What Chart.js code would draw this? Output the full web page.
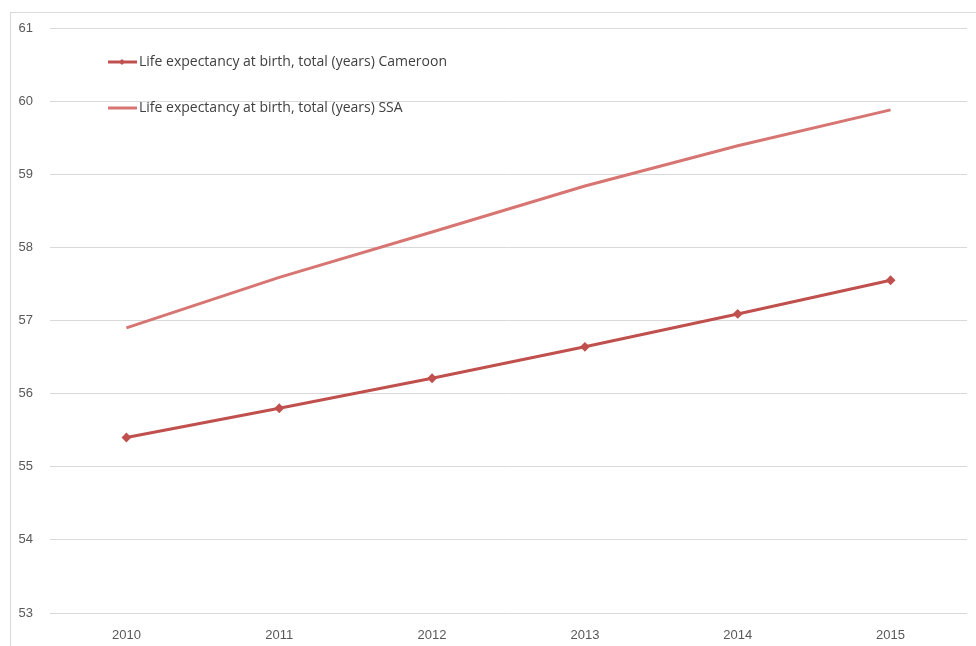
<!DOCTYPE html>
<html>
<head>
<meta charset="utf-8">
<script src="https://cdn.jsdelivr.net/npm/chart.js@4.4.1/dist/chart.umd.min.js"></script>
<style>
    html, body { margin: 0; padding: 0; background: #fff; }
    #frame {
        position: absolute; left: 10px; top: 12px; width: 966px; height: 634px;
        border-left: 1px solid #d9d9d9; border-top: 1px solid #d9d9d9;
    }
    #wrap { position: absolute; left: 0; top: 0; width: 976px; height: 646px; }
</style>
</head>
<body>
<div id="frame"></div>
<div id="wrap"><canvas id="lifeChart" width="976" height="646"></canvas></div>
<script>
// Data
const years = ["2010", "2011", "2012", "2013", "2014", "2015"];
const cameroon = [55.40, 55.80, 56.21, 56.64, 57.09, 57.55];
const ssa = [56.90, 57.59, 58.21, 58.84, 59.39, 59.88];
const cameroonLabel = "Life expectancy at birth, total (years) Cameroon";
const ssaLabel = "Life expectancy at birth, total (years) SSA";

const darkRed = "#c0504d";
const lightRed = "#d77572";
const tickFont = { family: "'Liberation Sans', Arial, sans-serif", size: 13 };

// Legend drawn inside the plot area, top-left, like the Excel original
const insideLegend = {
    id: "insideLegend",
    afterDraw(chart) {
        const ctx = chart.ctx;
        const items = [
            { text: cameroonLabel, color: darkRed, marker: true, y: 62 },
            { text: ssaLabel, color: lightRed, marker: false, y: 108 }
        ];
        ctx.save();
        ctx.font = "14px 'Open Sans', sans-serif";
        ctx.textBaseline = "middle";
        items.forEach(it => {
            ctx.strokeStyle = it.color;
            ctx.lineWidth = 3;
            ctx.beginPath();
            ctx.moveTo(108, it.y);
            ctx.lineTo(137, it.y);
            ctx.stroke();
            if (it.marker) {
                ctx.fillStyle = it.color;
                ctx.beginPath();
                ctx.moveTo(122, it.y - 3);
                ctx.lineTo(125, it.y);
                ctx.lineTo(122, it.y + 3);
                ctx.lineTo(119, it.y);
                ctx.closePath();
                ctx.fill();
            }
            ctx.fillStyle = "#404040";
            ctx.fillText(it.text, 139, it.y);
        });
        ctx.restore();
    }
};

const ctx = document.getElementById("lifeChart").getContext("2d");
const chart = new Chart(ctx, {
    type: "line",
    data: {
        labels: years,
        datasets: [{
            label: cameroonLabel,
            data: cameroon,
            borderColor: darkRed,
            backgroundColor: darkRed,
            borderWidth: 3,
            pointStyle: "rectRot",
            pointRadius: 2.8,
            pointHoverRadius: 2.8,
            tension: 0
        }, {
            label: ssaLabel,
            data: ssa,
            borderColor: lightRed,
            backgroundColor: lightRed,
            borderWidth: 3,
            pointRadius: 0,
            tension: 0
        }]
    },
    options: {
        responsive: false,
        animation: false,
        layout: { padding: { top: 28, right: 9, bottom: 0, left: 0 } },
        plugins: {
            legend: { display: false },
            tooltip: { enabled: false }
        },
        scales: {
            x: {
                offset: true,
                grid: { display: false, drawTicks: false },
                border: { display: false },
                ticks: { color: "#595959", font: tickFont, padding: 15, maxRotation: 0 },
                afterFit(scale) { scale.height = 33; }
            },
            y: {
                min: 53,
                max: 61,
                ticks: { stepSize: 1, color: "#595959", font: tickFont, padding: 17 },
                grid: { color: "#d9d9d9", lineWidth: 1, drawTicks: false },
                border: { display: false },
                afterFit(scale) { scale.width = 50; }
            }
        }
    },
    plugins: [insideLegend]
});
</script>
</body>
</html>
